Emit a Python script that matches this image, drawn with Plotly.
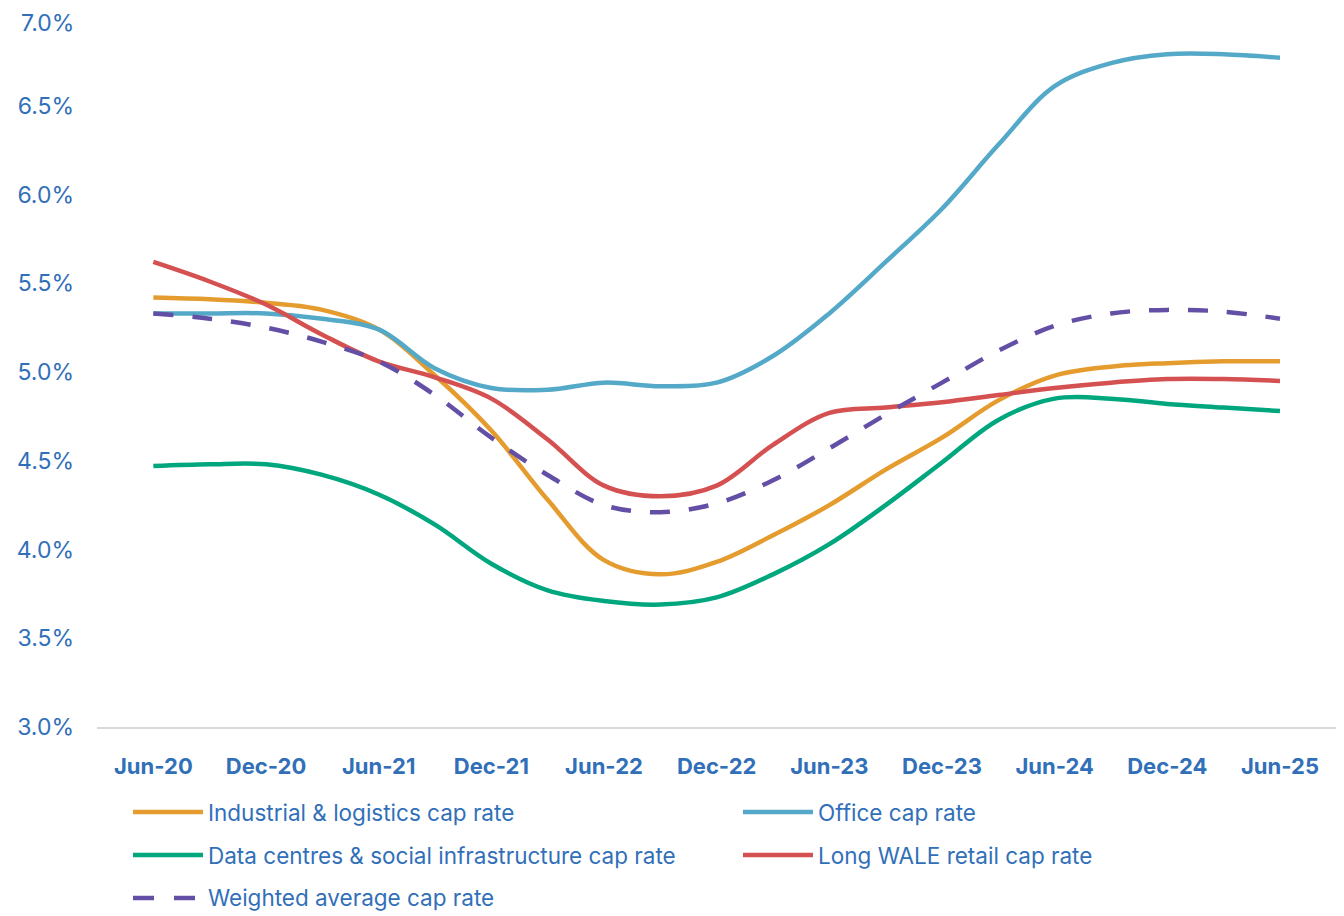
import plotly.graph_objects as go

quarters = ["Jun-20", "Sep-20", "Dec-20", "Mar-21", "Jun-21", "Sep-21", "Dec-21", "Mar-22",
            "Jun-22", "Sep-22", "Dec-22", "Mar-23", "Jun-23", "Sep-23", "Dec-23", "Mar-24",
            "Jun-24", "Sep-24", "Dec-24", "Mar-25", "Jun-25"]
tick_labels = ["Jun-20", "Dec-20", "Jun-21", "Dec-21", "Jun-22", "Dec-22",
               "Jun-23", "Dec-23", "Jun-24", "Dec-24", "Jun-25"]
y_ticks = [3.0, 3.5, 4.0, 4.5, 5.0, 5.5, 6.0, 6.5, 7.0]
y_tick_labels = ["3.0%", "3.5%", "4.0%", "4.5%", "5.0%", "5.5%", "6.0%", "6.5%", "7.0%"]

industrial = [5.42, 5.41, 5.39, 5.35, 5.24, 4.98, 4.67, 4.28, 3.94, 3.86, 3.93,
              4.08, 4.25, 4.45, 4.63, 4.84, 4.98, 5.03, 5.05, 5.06, 5.06]
office = [5.33, 5.33, 5.33, 5.30, 5.24, 5.02, 4.91, 4.90, 4.94, 4.92, 4.94,
          5.09, 5.33, 5.62, 5.92, 6.28, 6.61, 6.74, 6.79, 6.79, 6.77]
data_centres = [4.47, 4.48, 4.48, 4.42, 4.31, 4.14, 3.92, 3.77, 3.71, 3.69, 3.73,
                3.86, 4.03, 4.25, 4.49, 4.73, 4.85, 4.85, 4.82, 4.80, 4.78]
retail = [5.62, 5.51, 5.38, 5.21, 5.06, 4.97, 4.85, 4.62, 4.36, 4.30, 4.36,
          4.59, 4.77, 4.80, 4.83, 4.87, 4.91, 4.94, 4.96, 4.96, 4.95]
weighted = [5.33, 5.30, 5.25, 5.17, 5.06, 4.87, 4.63, 4.42, 4.25, 4.21, 4.26,
            4.39, 4.57, 4.76, 4.94, 5.12, 5.26, 5.33, 5.35, 5.34, 5.30]

series = [
    ("Industrial & logistics cap rate", industrial, "#E59C2F", "solid"),
    ("Office cap rate", office, "#54A9C9", "solid"),
    ("Data centres & social infrastructure cap rate", data_centres, "#00A77E", "solid"),
    ("Long WALE retail cap rate", retail, "#D55050", "solid"),
    ("Weighted average cap rate", weighted, "#634FA5", "20px,19px"),
]

TEXT = "#3170B9"
FONT = "Inter, Liberation Sans, Arial, sans-serif"
FS_LEG = 22.5
FS_Y = 23
FS_X = 22

x = list(range(len(quarters)))
fig = go.Figure()
for name, vals, color, dash in series:
    fig.add_trace(go.Scatter(
        x=x, y=vals, name=name, mode="lines",
        line=dict(color=color, width=4.5, dash=dash, shape="spline", smoothing=1.0),
        text=quarters, hovertemplate="%{text}: %{y:.2f}%<extra>" + name + "</extra>",
        showlegend=False,
    ))

# page offset of 8px (body margin) compensated in margins
OFF = 8
PL, PR, PT, PB = 97 - OFF, 1338 - OFF, 17 - OFF, 727 - OFF
H = float(PB - PT)
W = float(PR - PL)
def py(p):
    return (727 - p) / H
def px(p):
    return (p - 97) / W

legend_pos = [(133, 812), (743, 812), (133, 855), (743, 855), (133, 898)]
shapes = []
annotations = []
for (name, vals, color, dash), (lx, ly) in zip(series, legend_pos):
    if dash == "solid":
        shapes.append(dict(type="line", xref="paper", yref="paper",
                           x0=px(lx), x1=px(lx + 70), y0=py(ly), y1=py(ly),
                           line=dict(color=color, width=4.5)))
    else:
        shapes.append(dict(type="line", xref="paper", yref="paper",
                           x0=px(lx), x1=px(lx + 63), y0=py(ly), y1=py(ly),
                           line=dict(color=color, width=4.5, dash="21px,20px")))
    annotations.append(dict(xref="paper", yref="paper", x=px(lx + 73), y=py(ly),
                            xanchor="left", yanchor="middle", showarrow=False,
                            text=name, font=dict(family=FONT, size=FS_LEG, color=TEXT)))

# top y tick label drawn as annotation, kept inside the page edge
top_label_text = y_tick_labels[-1]
axis_tick_text = y_tick_labels[:-1] + [""]
annotations.append(dict(xref="paper", yref="paper", x=0, y=1 + PT / H,
                        xanchor="right", yanchor="top", xshift=-22, showarrow=False,
                        borderpad=0,
                        text=top_label_text, font=dict(family=FONT, size=FS_Y, color=TEXT)))

fig.update_layout(
    width=1344, height=916,
    margin=dict(l=PL, r=1344 - PR, t=PT, b=916 - PB, autoexpand=False),
    paper_bgcolor="white", plot_bgcolor="white",
    font=dict(family=FONT, color=TEXT, size=FS_LEG),
    shapes=shapes, annotations=annotations,
    showlegend=False,
    xaxis=dict(
        range=[-1, 21.03], tickmode="array",
        tickvals=list(range(0, 21, 2)), ticktext=tick_labels,
        showgrid=False, zeroline=False, showline=True,
        linecolor="#D9D9D9", linewidth=1.5, ticks="",
        tickfont=dict(family=FONT, size=FS_X, color=TEXT, weight="bold"),
        ticklabelstandoff=19, automargin=False,
    ),
    yaxis=dict(
        range=[3, 7], tickmode="array",
        tickvals=y_ticks, ticktext=axis_tick_text,
        showgrid=False, zeroline=False, showline=False, ticks="",
        tickfont=dict(family=FONT, size=FS_Y, color=TEXT),
        ticklabelstandoff=22, automargin=False,
    ),
)

fig.write_html("out.html")
